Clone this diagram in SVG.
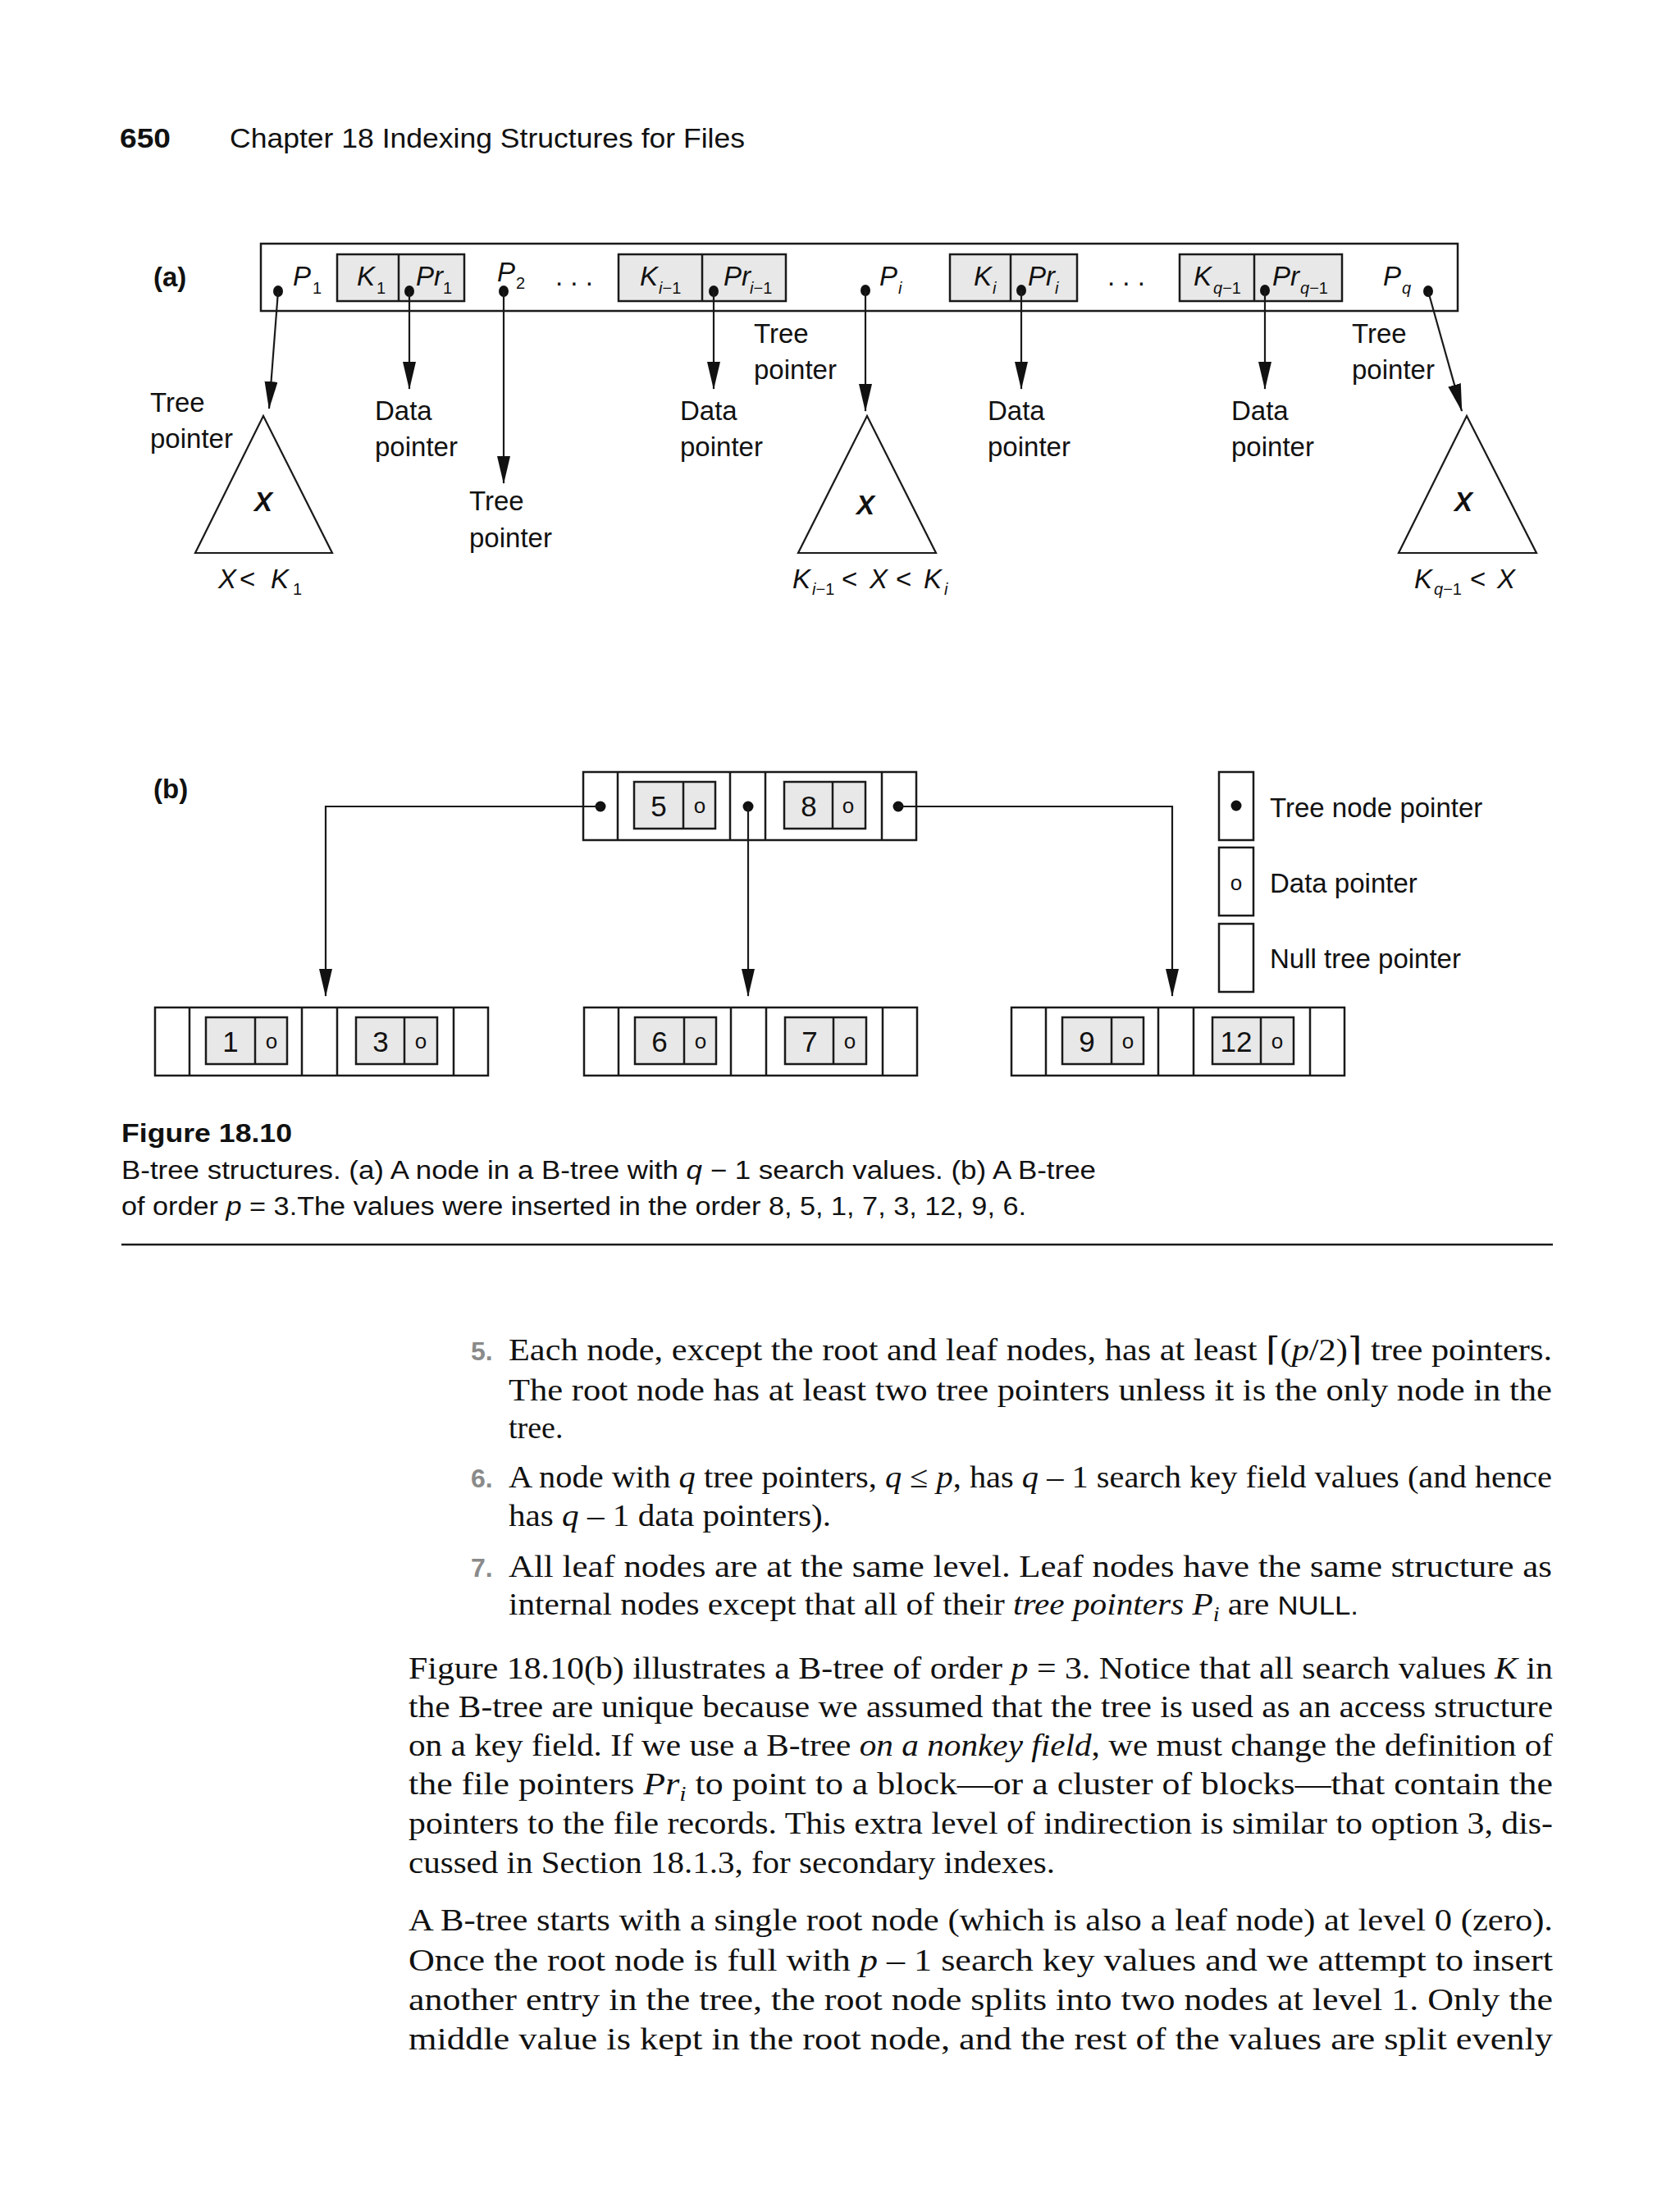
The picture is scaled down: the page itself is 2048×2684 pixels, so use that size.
<svg xmlns="http://www.w3.org/2000/svg" xmlns:xlink="http://www.w3.org/1999/xlink" width="2048" height="2684" viewBox="0 0 2048 2684">
<style>
.sans{font-family:"Liberation Sans",Arial,sans-serif;fill:#111}
.lbl{font-family:"Liberation Sans",Arial,sans-serif;font-size:33px;fill:#111}
.it{font-style:italic}
.sub{font-size:20px}
.key{font-family:"Liberation Sans",Arial,sans-serif;font-size:35px;fill:#111;text-anchor:middle}
.dp{font-family:"Liberation Sans",Arial,sans-serif;font-size:26px;fill:#111;text-anchor:middle}
.body{font-family:"Liberation Serif","Times New Roman",serif;font-size:38px;fill:#111}
.num{font-family:"Liberation Sans",Arial,sans-serif;font-size:32px;font-weight:bold;fill:#8a8a8a}
.box{fill:#fff;stroke:#1a1a1a;stroke-width:2.5}
.gray{fill:#e8e8e8;stroke:#1a1a1a;stroke-width:2.5}
.ln{fill:none;stroke:#1a1a1a;stroke-width:2.5}
.tri{fill:#fff;stroke:#1a1a1a;stroke-width:2.2}
.arr{fill:none;stroke:#1a1a1a;stroke-width:2.2;marker-end:url(#ah)}
.dot{fill:#111}
</style>
<defs>
<marker id="ah" markerUnits="userSpaceOnUse" markerWidth="34" markerHeight="18" refX="33" refY="8" orient="auto">
<path d="M0,0 L34,8 L0,16 Z" fill="#111"/>
</marker>
<g id="bframe">
<rect x="0" y="0" width="406" height="83" class="box"/>
<rect x="62" y="12" width="99" height="57" class="gray"/>
<rect x="245" y="12" width="99" height="57" class="gray"/>
<path d="M42,0V83 M179,0V83 M222,0V83 M364,0V83 M122,12V69 M304,12V69" class="ln"/>
</g>
</defs>
<rect width="2048" height="2684" fill="#fff"/>

<!-- header -->
<text x="146" y="180" class="sans" font-size="34" font-weight="bold" textLength="62" lengthAdjust="spacingAndGlyphs">650</text>
<text x="280" y="180" class="sans" font-size="34" textLength="628" lengthAdjust="spacingAndGlyphs">Chapter 18  Indexing Structures for Files</text>

<!-- part (a) -->
<text x="187" y="349" class="lbl" font-weight="bold" font-size="35">(a)</text>
<g id="node-a">
<rect x="318" y="297" width="1459" height="82" class="box"/>
<rect x="411" y="310" width="155" height="57" class="gray"/>
<line x1="486" y1="310" x2="486" y2="367" class="ln"/>
<rect x="754" y="310" width="204" height="57" class="gray"/>
<line x1="856" y1="310" x2="856" y2="367" class="ln"/>
<rect x="1158" y="310" width="155" height="57" class="gray"/>
<line x1="1232" y1="310" x2="1232" y2="367" class="ln"/>
<rect x="1438" y="310" width="198" height="57" class="gray"/>
<line x1="1529" y1="310" x2="1529" y2="367" class="ln"/>
<g class="lbl" font-size="33">
<text x="357" y="348" class="it">P</text><text x="381" y="358" class="sub">1</text>
<text x="435" y="348" class="it">K</text><text x="459" y="358" class="sub">1</text>
<text x="507" y="348" class="it">Pr</text><text x="540" y="358" class="sub">1</text>
<text x="606" y="343" class="it">P</text><text x="629" y="352" class="sub">2</text>
<text x="677" y="348">. . .</text>
<text x="780" y="348" class="it">K</text><text x="803" y="358" class="sub"><tspan class="it">i</tspan>−1</text>
<text x="882" y="348" class="it">Pr</text><text x="914" y="358" class="sub"><tspan class="it">i</tspan>−1</text>
<text x="1072" y="348" class="it">P</text><text x="1095" y="358" class="sub it">i</text>
<text x="1187" y="348" class="it">K</text><text x="1210" y="358" class="sub it">i</text>
<text x="1253" y="348" class="it">Pr</text><text x="1286" y="358" class="sub it">i</text>
<text x="1350" y="348">. . .</text>
<text x="1455" y="348" class="it">K</text><text x="1479" y="358" class="sub"><tspan class="it">q</tspan>−1</text>
<text x="1551" y="348" class="it">Pr</text><text x="1585" y="358" class="sub"><tspan class="it">q</tspan>−1</text>
<text x="1686" y="348" class="it">P</text><text x="1709" y="358" class="sub it">q</text>
</g>
<ellipse cx="339" cy="355" rx="6" ry="7" class="dot"/>
<ellipse cx="499" cy="355" rx="6" ry="7" class="dot"/>
<ellipse cx="614" cy="355" rx="6" ry="7" class="dot"/>
<ellipse cx="870" cy="355" rx="6" ry="7" class="dot"/>
<ellipse cx="1055" cy="354" rx="6" ry="7" class="dot"/>
<ellipse cx="1245" cy="354" rx="6" ry="7" class="dot"/>
<ellipse cx="1542" cy="354" rx="6" ry="7" class="dot"/>
<ellipse cx="1741" cy="355" rx="6" ry="7" class="dot"/>
</g>

<g id="subtree-left">
<polygon points="321,507 238,674 405,674" class="tri"/>
<text x="321" y="623" class="lbl it" font-weight="bold" text-anchor="middle" font-size="36">X</text>
<g class="lbl" font-size="35">
<text x="266" y="717" class="it">X</text><text x="292" y="717">&lt;</text><text x="330" y="717" class="it">K</text><text x="357" y="725" class="sub">1</text>
</g>
</g>
<g id="subtree-middle">
<polygon points="1057,507 973,674 1141,674" class="tri"/>
<text x="1055" y="627" class="lbl it" font-weight="bold" text-anchor="middle" font-size="36">X</text>
<g class="lbl" font-size="35">
<text x="966" y="717" class="it">K</text><text x="990" y="725" class="sub"><tspan class="it">i</tspan>−1</text>
<text x="1026" y="717">&lt;</text><text x="1060" y="717" class="it">X</text><text x="1092" y="717">&lt;</text><text x="1126" y="717" class="it">K</text><text x="1151" y="725" class="sub it">i</text>
</g>
</g>
<g id="subtree-right">
<polygon points="1788,507 1705,674 1873,674" class="tri"/>
<text x="1784" y="623" class="lbl it" font-weight="bold" text-anchor="middle" font-size="36">X</text>
<g class="lbl" font-size="35">
<text x="1724" y="717" class="it">K</text><text x="1748" y="725" class="sub"><tspan class="it">q</tspan>−1</text>
<text x="1792" y="717">&lt;</text><text x="1825" y="717" class="it">X</text>
</g>
</g>

<g id="connectors-a">
<line x1="339" y1="355" x2="328" y2="498" class="arr"/>
<line x1="499" y1="355" x2="499" y2="474" class="arr"/>
<line x1="614" y1="355" x2="614" y2="589" class="arr"/>
<line x1="870" y1="355" x2="870" y2="474" class="arr"/>
<line x1="1055" y1="354" x2="1055" y2="501" class="arr"/>
<line x1="1245" y1="354" x2="1245" y2="474" class="arr"/>
<line x1="1542" y1="354" x2="1542" y2="474" class="arr"/>
<line x1="1741" y1="355" x2="1782" y2="501" class="arr"/>
</g>

<g id="labels-a" class="lbl">
<text x="183" y="502">Tree</text><text x="183" y="546">pointer</text>
<text x="457" y="512">Data</text><text x="457" y="556">pointer</text>
<text x="572" y="622">Tree</text><text x="572" y="667">pointer</text>
<text x="829" y="512">Data</text><text x="829" y="556">pointer</text>
<text x="919" y="418">Tree</text><text x="919" y="462">pointer</text>
<text x="1204" y="512">Data</text><text x="1204" y="556">pointer</text>
<text x="1501" y="512">Data</text><text x="1501" y="556">pointer</text>
<text x="1648" y="418">Tree</text><text x="1648" y="462">pointer</text>
</g>

<!-- part (b) -->
<text x="187" y="973" class="lbl" font-weight="bold" font-size="35">(b)</text>
<g id="root-5-8">
<use xlink:href="#bframe" x="711" y="941"/>
<text x="803" y="995" class="key">5</text><text x="853" y="991" class="dp">o</text>
<text x="986" y="995" class="key">8</text><text x="1034" y="991" class="dp">o</text>
<circle cx="732" cy="983" r="6.5" class="dot"/>
<circle cx="912" cy="983" r="6.5" class="dot"/>
<circle cx="1095" cy="983" r="6.5" class="dot"/>
</g>
<g id="leaf-1-3">
<use xlink:href="#bframe" x="189" y="1228"/>
<text x="281" y="1282" class="key">1</text><text x="331" y="1278" class="dp">o</text>
<text x="464" y="1282" class="key">3</text><text x="513" y="1278" class="dp">o</text>
</g>
<g id="leaf-6-7">
<use xlink:href="#bframe" x="712" y="1228"/>
<text x="804" y="1282" class="key">6</text><text x="854" y="1278" class="dp">o</text>
<text x="987" y="1282" class="key">7</text><text x="1036" y="1278" class="dp">o</text>
</g>
<g id="leaf-9-12">
<use xlink:href="#bframe" x="1233" y="1228"/>
<text x="1325" y="1282" class="key">9</text><text x="1375" y="1278" class="dp">o</text>
<text x="1507" y="1282" class="key">12</text><text x="1557" y="1278" class="dp">o</text>
</g>

<g id="connectors-b">
<polyline points="732,983 397,983 397,1214" class="arr"/>
<line x1="912" y1="983" x2="912" y2="1214" class="arr"/>
<polyline points="1095,983 1429,983 1429,1214" class="arr"/>
</g>

<g id="legend">
<rect x="1486" y="941" width="42" height="83" class="box"/>
<circle cx="1507" cy="982" r="6.5" class="dot"/>
<rect x="1486" y="1033" width="42" height="83" class="box"/>
<text x="1507" y="1085" class="dp">o</text>
<rect x="1486" y="1126" width="42" height="83" class="box"/>
<text x="1548" y="996" class="lbl" font-size="34">Tree node pointer</text>
<text x="1548" y="1088" class="lbl" font-size="34">Data pointer</text>
<text x="1548" y="1180" class="lbl" font-size="34">Null tree pointer</text>
</g>

<!-- caption -->
<text x="148" y="1392" class="sans" font-size="32" font-weight="bold" textLength="208" lengthAdjust="spacingAndGlyphs">Figure 18.10</text>
<text x="148" y="1437" class="sans" font-size="31" textLength="1188" lengthAdjust="spacingAndGlyphs">B-tree structures. (a) A node in a B-tree with <tspan class="it">q</tspan> − 1 search values. (b) A B-tree</text>
<text x="148" y="1481" class="sans" font-size="31" textLength="1103" lengthAdjust="spacingAndGlyphs">of order <tspan class="it">p</tspan> = 3.The values were inserted in the order 8, 5, 1, 7, 3, 12, 9, 6.</text>
<line x1="148" y1="1517" x2="1893" y2="1517" stroke="#1a1a1a" stroke-width="2.5"/>

<!-- body text -->
<text x="574" y="1658" class="num">5.</text>
<text x="620" y="1658" class="body" textLength="1272" lengthAdjust="spacingAndGlyphs">Each node, except the root and leaf nodes, has at least <tspan font-family="DejaVu Serif" font-size="40">⌈</tspan>(<tspan class="it">p</tspan>/2)<tspan font-family="DejaVu Serif" font-size="40">⌉</tspan> tree pointers.</text>
<text x="620" y="1707" class="body" textLength="1272" lengthAdjust="spacingAndGlyphs">The root node has at least two tree pointers unless it is the only node in the</text>
<text x="620" y="1753" class="body">tree.</text>
<text x="574" y="1813" class="num">6.</text>
<text x="620" y="1813" class="body" textLength="1272" lengthAdjust="spacingAndGlyphs">A node with <tspan class="it">q</tspan> tree pointers, <tspan class="it">q</tspan> ≤ <tspan class="it">p</tspan>, has <tspan class="it">q</tspan> – 1 search key field values (and hence</text>
<text x="620" y="1860" class="body" textLength="393" lengthAdjust="spacingAndGlyphs">has <tspan class="it">q</tspan> – 1 data pointers).</text>
<text x="574" y="1922" class="num">7.</text>
<text x="620" y="1922" class="body" textLength="1272" lengthAdjust="spacingAndGlyphs">All leaf nodes are at the same level. Leaf nodes have the same structure as</text>
<text x="620" y="1968" class="body" textLength="1036" lengthAdjust="spacingAndGlyphs">internal nodes except that all of their <tspan class="it">tree pointers P</tspan><tspan class="it" font-size="26" dy="8">i</tspan><tspan dy="-8"> are </tspan><tspan font-family="Liberation Sans,Arial,sans-serif" font-size="32">NULL.</tspan></text>

<text x="498" y="2046" class="body" textLength="1395" lengthAdjust="spacingAndGlyphs">Figure 18.10(b) illustrates a B-tree of order <tspan class="it">p</tspan> = 3. Notice that all search values <tspan class="it">K</tspan> in</text>
<text x="498" y="2093" class="body" textLength="1395" lengthAdjust="spacingAndGlyphs">the B-tree are unique because we assumed that the tree is used as an access structure</text>
<text x="498" y="2140" class="body" textLength="1395" lengthAdjust="spacingAndGlyphs">on a key field. If we use a B-tree <tspan class="it">on a nonkey field</tspan>, we must change the definition of</text>
<text x="498" y="2187" class="body" textLength="1395" lengthAdjust="spacingAndGlyphs">the file pointers <tspan class="it">Pr</tspan><tspan class="it" font-size="26" dy="8">i</tspan><tspan dy="-8"> to point to a block—or a cluster of blocks—that contain the</tspan></text>
<text x="498" y="2235" class="body" textLength="1395" lengthAdjust="spacingAndGlyphs">pointers to the file records. This extra level of indirection is similar to option 3, dis-</text>
<text x="498" y="2283" class="body" textLength="788" lengthAdjust="spacingAndGlyphs">cussed in Section 18.1.3, for secondary indexes.</text>

<text x="498" y="2353" class="body" textLength="1395" lengthAdjust="spacingAndGlyphs">A B-tree starts with a single root node (which is also a leaf node) at level 0 (zero).</text>
<text x="498" y="2402" class="body" textLength="1395" lengthAdjust="spacingAndGlyphs">Once the root node is full with <tspan class="it">p</tspan> – 1 search key values and we attempt to insert</text>
<text x="498" y="2450" class="body" textLength="1395" lengthAdjust="spacingAndGlyphs">another entry in the tree, the root node splits into two nodes at level 1. Only the</text>
<text x="498" y="2498" class="body" textLength="1395" lengthAdjust="spacingAndGlyphs">middle value is kept in the root node, and the rest of the values are split evenly</text>
</svg>
